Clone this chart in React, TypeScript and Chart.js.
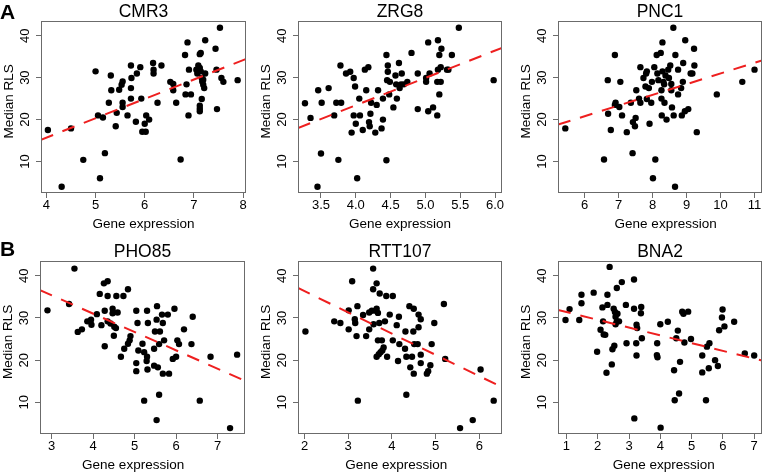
import React, { useEffect, useRef } from 'react';
import { Chart, registerables } from 'chart.js';

Chart.register(...registerables);

// ---------- DATA (Gene expression, Median RLS) ----------
const CMR3_POINTS: [number, number][] = [
  [4.03, 17.5], [4.31, 4.0], [4.5, 17.9], [4.75, 10.4], [5.0, 31.5], [5.05, 21.0], [5.09, 6.0], [5.15, 20.5],
  [5.19, 12.0], [5.27, 24.0], [5.31, 30.5], [5.32, 27.0], [5.43, 21.6], [5.41, 18.4], [5.48, 27.1], [5.53, 28.3],
  [5.55, 29.1], [5.55, 24.0], [5.55, 23.0], [5.65, 21.0], [5.72, 32.9], [5.72, 27.5], [5.72, 25.0], [5.73, 29.9],
  [5.82, 19.5], [5.84, 31.0], [5.91, 32.5], [5.93, 25.0], [5.95, 17.1], [6.0, 19.0], [6.02, 17.1], [6.03, 21.0],
  [6.09, 20.0], [6.17, 33.5], [6.18, 31.9], [6.18, 31.0], [6.26, 24.0], [6.34, 32.9], [6.52, 29.0], [6.58, 28.5],
  [6.58, 27.0], [6.64, 24.0], [6.73, 10.5], [6.82, 35.4], [6.83, 26.0], [6.85, 28.4], [6.87, 38.4], [6.89, 21.0],
  [6.9, 31.9], [6.94, 26.0], [7.05, 31.9], [7.07, 31.0], [7.09, 32.9], [7.12, 35.6], [7.14, 35.9], [7.12, 32.3],
  [7.14, 31.5], [7.16, 29.9], [7.17, 29.1], [7.19, 28.3], [7.16, 24.9], [7.12, 23.3], [7.12, 22.6], [7.12, 22.0],
  [7.23, 38.9], [7.21, 27.5], [7.19, 29.5], [7.23, 31.0], [7.44, 36.9], [7.46, 31.9], [7.47, 22.5], [7.53, 41.9],
  [7.56, 29.9], [7.6, 29.0], [7.89, 29.4],
];

const ZRG8_POINTS: [number, number][] = [
  [3.27, 23.9], [3.35, 20.4], [3.45, 4.0], [3.46, 27.0], [3.5, 11.9], [3.51, 24.0], [3.61, 27.5], [3.69, 21.0],
  [3.72, 24.0], [3.75, 10.4], [3.78, 32.9], [3.79, 24.0], [3.86, 31.0], [3.92, 31.4], [3.94, 16.9], [3.97, 29.9],
  [3.97, 21.0], [3.99, 27.9], [4.0, 19.0], [4.02, 6.0], [4.05, 25.0], [4.06, 21.0], [4.1, 17.5], [4.13, 31.9],
  [4.15, 27.0], [4.18, 32.5], [4.19, 19.4], [4.2, 18.4], [4.21, 21.4], [4.22, 24.0], [4.28, 16.9], [4.3, 23.5],
  [4.32, 27.0], [4.37, 17.9], [4.39, 20.0], [4.39, 25.0], [4.44, 35.4], [4.44, 10.3], [4.46, 32.9], [4.45, 29.4],
  [4.46, 31.4], [4.49, 29.0], [4.48, 26.0], [4.54, 22.9], [4.57, 30.5], [4.58, 28.4], [4.59, 25.0], [4.62, 33.5],
  [4.63, 27.5], [4.65, 28.4], [4.66, 31.0], [4.69, 28.4], [4.74, 29.0], [4.8, 35.9], [4.89, 31.0], [4.89, 22.5],
  [5.01, 29.9], [5.01, 29.0], [5.04, 38.4], [5.04, 22.0], [5.06, 31.0], [5.11, 22.9], [5.17, 29.0], [5.17, 21.0],
  [5.18, 38.9], [5.18, 31.9], [5.2, 35.4], [5.2, 26.0], [5.22, 29.0], [5.22, 32.5], [5.23, 36.9], [5.31, 31.9],
  [5.33, 31.9], [5.38, 35.4], [5.48, 41.9], [5.98, 29.4],
];

const PNC1_POINTS: [number, number][] = [
  [5.43, 17.9], [6.57, 10.5], [6.68, 29.4], [6.69, 21.4], [6.77, 17.5], [6.89, 35.4], [6.89, 23.5], [6.91, 24.0],
  [7.02, 23.0], [7.05, 29.0], [7.1, 21.0], [7.24, 17.0], [7.36, 24.0], [7.41, 12.0], [7.42, 19.4], [7.48, 18.4],
  [7.5, 20.4], [7.52, 27.0], [7.6, 25.0], [7.64, 24.0], [7.64, 32.5], [7.73, 29.9], [7.79, 27.9], [7.81, 31.0],
  [7.83, 31.5], [7.83, 24.9], [7.89, 27.5], [7.91, 19.0], [7.96, 24.0], [7.98, 29.0], [8.01, 6.0], [8.05, 32.5],
  [8.08, 10.5], [8.12, 35.4], [8.14, 31.0], [8.17, 29.4], [8.24, 35.9], [8.26, 25.0], [8.26, 27.0], [8.27, 21.0],
  [8.29, 38.4], [8.29, 31.5], [8.32, 29.0], [8.34, 28.4], [8.35, 24.0], [8.38, 30.5], [8.41, 20.0], [8.46, 31.9],
  [8.48, 29.9], [8.52, 32.9], [8.55, 28.5], [8.55, 27.0], [8.57, 22.9], [8.61, 41.9], [8.62, 21.0], [8.67, 35.4],
  [8.66, 4.0], [8.75, 31.9], [8.75, 26.0], [8.84, 27.5], [8.86, 21.0], [8.89, 29.0], [8.9, 33.5], [8.95, 22.0],
  [8.96, 38.9], [9.05, 22.5], [9.12, 31.0], [9.17, 31.0], [9.22, 36.9], [9.23, 32.9], [9.3, 17.0], [9.89, 26.0],
  [10.64, 29.0], [11.0, 31.9],
];

const PHO85_POINTS: [number, number][] = [
  [2.9, 31.8], [3.42, 33.3], [3.55, 41.7], [3.63, 26.7], [3.73, 27.3], [3.86, 29.2], [3.95, 29.6], [3.96, 28.4],
  [4.09, 30.9], [4.16, 35.7], [4.2, 28.3], [4.26, 38.2], [4.35, 38.7], [4.28, 31.7], [4.28, 23.3], [4.35, 35.2],
  [4.35, 29.2], [4.42, 28.7], [4.47, 32.2], [4.47, 31.1], [4.51, 27.9], [4.5, 25.8], [4.55, 27.6], [4.59, 31.3],
  [4.56, 35.2], [4.67, 20.8], [4.73, 35.2], [4.75, 22.7], [4.84, 36.8], [4.84, 23.9], [4.88, 24.7], [4.9, 25.7],
  [5.04, 31.7], [5.07, 28.8], [5.04, 19.3], [5.04, 17.4], [5.09, 22.3], [5.23, 10.4], [5.19, 23.9], [5.23, 21.9],
  [5.3, 31.7], [5.32, 28.8], [5.3, 20.8], [5.29, 19.8], [5.31, 17.8], [5.54, 32.8], [5.53, 29.6], [5.49, 26.8],
  [5.61, 26.8], [5.66, 30.8], [5.68, 28.8], [5.8, 30.8], [5.96, 32.2], [5.71, 24.7], [5.59, 23.8], [5.47, 22.7],
  [5.47, 18.7], [5.56, 18.3], [5.68, 16.8], [5.83, 16.8], [5.59, 11.8], [5.53, 5.8], [6.03, 24.7], [6.07, 23.8],
  [6.19, 27.3], [6.4, 30.3], [6.37, 23.8], [5.92, 20.3], [6.0, 20.8], [6.57, 10.4], [6.83, 20.8], [7.3, 3.9],
  [7.47, 21.3],
];

const RTT107_POINTS: [number, number][] = [
  [2.02, 26.8], [3.09, 38.7], [3.21, 32.8], [3.22, 10.4], [3.01, 31.8], [3.01, 27.3], [2.68, 29.2], [2.82, 28.8],
  [3.15, 29.7], [3.16, 28.8], [3.19, 25.7], [3.34, 30.7], [3.41, 25.7], [3.48, 27.3], [3.48, 31.3], [3.54, 31.7],
  [3.57, 41.7], [3.57, 36.8], [3.65, 38.2], [3.58, 28.5], [3.63, 31.7], [3.65, 32.2], [3.68, 31.2], [3.71, 28.8],
  [3.72, 35.8], [3.68, 24.7], [3.77, 24.7], [3.84, 29.2], [3.95, 30.8], [3.87, 35.2], [4.02, 35.2], [3.81, 23.0],
  [3.78, 22.3], [3.74, 21.9], [3.7, 21.4], [3.65, 20.8], [3.89, 20.8], [4.02, 24.7], [4.11, 28.3], [4.16, 30.3],
  [4.14, 19.8], [4.17, 23.8], [4.4, 32.8], [4.5, 32.2], [4.61, 30.8], [4.66, 29.7], [4.61, 27.8], [4.49, 26.8],
  [4.31, 26.8], [4.3, 22.7], [4.51, 23.8], [4.59, 23.8], [4.66, 21.3], [4.66, 19.3], [4.46, 20.8], [4.33, 20.8],
  [4.42, 18.3], [4.5, 16.8], [4.8, 16.8], [4.83, 17.4], [4.88, 18.8], [4.91, 23.8], [4.97, 28.8], [5.19, 33.3],
  [5.22, 20.3], [4.33, 11.8], [6.03, 17.8], [6.33, 10.4], [5.85, 5.8], [5.56, 3.9],
];

const BNA2_POINTS: [number, number][] = [
  [0.97, 29.5], [1.1, 32.1], [1.41, 29.5], [1.48, 35.5], [1.48, 33.5], [1.87, 36.0], [1.98, 22.0], [2.09, 27.2],
  [2.15, 32.5], [2.17, 29.2], [2.19, 26.1], [2.24, 26.0], [2.28, 17.0], [2.31, 35.5], [2.31, 33.1], [2.38, 42.1],
  [2.45, 19.0], [2.47, 22.6], [2.53, 23.4], [2.51, 32.2], [2.55, 31.4], [2.57, 30.3], [2.63, 31.0], [2.61, 29.2],
  [2.68, 29.2], [2.57, 28.5], [2.61, 37.1], [2.77, 38.5], [2.9, 33.1], [2.92, 24.0], [3.16, 39.1], [3.16, 32.2],
  [3.17, 6.2], [3.24, 28.4], [3.26, 27.6], [3.23, 24.0], [3.24, 21.1], [3.39, 32.6], [3.38, 31.1], [3.41, 25.2],
  [4.0, 28.5], [3.9, 24.0], [3.89, 21.2], [3.91, 20.7], [4.01, 4.0], [4.24, 29.1], [4.44, 17.6], [4.46, 10.5],
  [4.6, 12.1], [4.63, 19.6], [4.56, 27.0], [4.51, 25.2], [4.7, 31.5], [4.74, 31.0], [4.77, 24.2], [4.89, 31.5],
  [4.98, 25.0], [5.34, 21.1], [5.34, 17.1], [5.46, 10.5], [5.49, 23.2], [5.57, 24.0], [5.55, 18.1], [5.75, 20.0],
  [5.84, 18.6], [5.88, 27.1], [5.97, 30.1], [5.99, 32.0], [6.05, 28.0], [6.36, 29.1], [6.7, 21.6], [7.0, 21.1],
];

// Axis limits and ticks
const Y_LIMITS: [number, number] = [2.5, 43.5];
const Y_TICKS = [10, 20, 30, 40];

const CMR3_XLIM: [number, number] = [3.89, 8.06];
const ZRG8_XLIM: [number, number] = [3.17, 6.1];
const PNC1_XLIM: [number, number] = [5.215, 11.22];
const PHO85_XLIM: [number, number] = [2.72, 7.66];
const RTT107_XLIM: [number, number] = [1.85, 6.52];
const BNA2_XLIM: [number, number] = [0.73, 7.25];

const CMR3_XTICKS = [4, 5, 6, 7, 8];
const ZRG8_XTICKS = [3.5, 4.0, 4.5, 5.0, 5.5, 6.0];
const PNC1_XTICKS = [6, 7, 8, 9, 10, 11];
const PHO85_XTICKS = [3, 4, 5, 6, 7];
const RTT107_XTICKS = [2, 3, 4, 5, 6];
const BNA2_XTICKS = [1, 2, 3, 4, 5, 6, 7];

// Regression line: RLS at the left and right x limits
const CMR3_FIT: [number, number] = [15.2, 34.45];
const ZRG8_FIT: [number, number] = [18.0, 37.1];
const PNC1_FIT: [number, number] = [18.8, 34.1];
const PHO85_FIT: [number, number] = [36.6, 15.1];
const RTT107_FIT: [number, number] = [37.1, 13.6];
const BNA2_FIT: [number, number] = [31.9, 19.9];

const X_TITLE = 'Gene expression';
const Y_TITLE = 'Median RLS';

// ---------- LAYOUT / STYLE ----------
const FONT = "'Liberation Sans', Arial, Helvetica, sans-serif";
const AXIS_GRAY = '#6b6b6b';
const RED = '#ee1f1f';
const Y_AXIS_W = 40;
const X_AXIS_H = 40;
const TITLE_H = 20; // 17.5 + 2 + 0.5
const RIGHT_PAD = 12;

type Panel = {
  title: string;
  points: [number, number][];
  xlim: [number, number];
  xticks: number[];
  decimals: number;
  fit: [number, number];
  xTitleShift: number; // spaces: >0 leading (shift right), <0 trailing (shift left)
  box: { L: number; R: number; T: number; B: number };
};

const PANELS: Panel[] = [
  { title: 'CMR3', points: CMR3_POINTS, xlim: CMR3_XLIM, xticks: CMR3_XTICKS, decimals: 0, fit: CMR3_FIT, xTitleShift: 0, box: { L: 41, R: 246, T: 21, B: 193 } },
  { title: 'ZRG8', points: ZRG8_POINTS, xlim: ZRG8_XLIM, xticks: ZRG8_XTICKS, decimals: 1, fit: ZRG8_FIT, xTitleShift: 0, box: { L: 298, R: 502, T: 21, B: 193 } },
  { title: 'PNC1', points: PNC1_POINTS, xlim: PNC1_XLIM, xticks: PNC1_XTICKS, decimals: 0, fit: PNC1_FIT, xTitleShift: 3, box: { L: 558, R: 762, T: 21, B: 193 } },
  { title: 'PHO85', points: PHO85_POINTS, xlim: PHO85_XLIM, xticks: PHO85_XTICKS, decimals: 0, fit: PHO85_FIT, xTitleShift: -5, box: { L: 40, R: 245, T: 261, B: 434 } },
  { title: 'RTT107', points: RTT107_POINTS, xlim: RTT107_XLIM, xticks: RTT107_XTICKS, decimals: 0, fit: RTT107_FIT, xTitleShift: -2, box: { L: 298, R: 502, T: 261, B: 434 } },
  { title: 'BNA2', points: BNA2_POINTS, xlim: BNA2_XLIM, xticks: BNA2_XTICKS, decimals: 0, fit: BNA2_FIT, xTitleShift: 2, box: { L: 558, R: 762, T: 261, B: 434 } },
];

function padText(text: string, n: number) {
  if (n > 0) return ' '.repeat(n) + text;
  if (n < 0) return text + ' '.repeat(-n);
  return text;
}

const boxPlugin = {
  id: 'plotBox',
  afterDatasetsDraw(chart: any) {
    const { ctx, chartArea } = chart;
    const { left, top, right, bottom } = chartArea;
    ctx.save();
    ctx.strokeStyle = AXIS_GRAY;
    ctx.lineWidth = 1;
    ctx.strokeRect(Math.round(left) + 0.5, Math.round(top) + 0.5, Math.round(right - left) - 1, Math.round(bottom - top) - 1);
    ctx.restore();
  },
};

function ScatterPanel({ panel }: { panel: Panel }) {
  const ref = useRef<HTMLCanvasElement | null>(null);
  const { L, R, T, B } = panel.box;
  const width = R - L + Y_AXIS_W + RIGHT_PAD;
  const height = B - T + TITLE_H + X_AXIS_H;

  useEffect(() => {
    if (!ref.current) return;
    const tickFont = { family: FONT, size: 13, lineHeight: 1.2 };
    const titleFont = { family: FONT, size: 13.5, lineHeight: 1.2 };
    const chart = new Chart(ref.current, {
      type: 'scatter',
      data: {
        datasets: [
          {
            type: 'line',
            data: [
              { x: panel.xlim[0], y: panel.fit[0] },
              { x: panel.xlim[1], y: panel.fit[1] },
            ],
            borderColor: RED,
            borderWidth: 2,
            borderDash: [13, 10],
            pointRadius: 0,
            fill: false,
          } as any,
          {
            type: 'scatter',
            data: panel.points.map(([x, y]) => ({ x, y })),
            pointRadius: 3.2,
            pointBackgroundColor: '#000',
            backgroundColor: '#000',
            borderWidth: 0,
            pointBorderWidth: 0,
          } as any,
        ],
      },
      options: {
        animation: false,
        responsive: false,
        maintainAspectRatio: false,
        events: [],
        layout: { padding: { left: 0, top: 0, right: RIGHT_PAD, bottom: 0 } },
        plugins: {
          legend: { display: false },
          tooltip: { enabled: false },
          title: {
            display: true,
            text: panel.title,
            fullSize: false,
            color: '#000',
            font: { family: FONT, size: 17.5, weight: 'normal', lineHeight: 1 },
            padding: { top: 2, bottom: 0.5 },
          },
        },
        scales: {
          x: {
            type: 'linear',
            min: panel.xlim[0],
            max: panel.xlim[1],
            afterBuildTicks: (axis: any) => {
              axis.ticks = panel.xticks.map((v) => ({ value: v }));
            },
            afterFit: (axis: any) => {
              axis.height = X_AXIS_H;
            },
            ticks: {
              font: tickFont,
              color: '#000',
              padding: 0,
              maxRotation: 0,
              autoSkip: false,
              callback: (v: any) => Number(v).toFixed(panel.decimals),
            },
            grid: { display: true, drawOnChartArea: false, drawTicks: true, tickLength: 5, color: AXIS_GRAY },
            border: { display: false },
            title: {
              display: true,
              text: padText(X_TITLE, panel.xTitleShift),
              color: '#000',
              font: titleFont,
              padding: { top: 0, bottom: 0.9 },
            },
          },
          y: {
            type: 'linear',
            min: Y_LIMITS[0],
            max: Y_LIMITS[1],
            afterBuildTicks: (axis: any) => {
              axis.ticks = Y_TICKS.map((v) => ({ value: v }));
            },
            afterFit: (axis: any) => {
              axis.width = Y_AXIS_W;
            },
            ticks: {
              font: tickFont,
              color: '#000',
              padding: 3.3,
              minRotation: 90,
              maxRotation: 90,
              crossAlign: 'center',
              autoSkip: false,
            },
            grid: { display: true, drawOnChartArea: false, drawTicks: true, tickLength: 5, color: AXIS_GRAY },
            border: { display: false },
            title: {
              display: true,
              text: padText(Y_TITLE, 3),
              color: '#000',
              font: titleFont,
              padding: { top: 0.4, bottom: 0 },
            },
          },
        },
      } as any,
      plugins: [boxPlugin],
    });
    return () => chart.destroy();
  }, [panel]);

  return (
    <canvas
      ref={ref}
      width={width}
      height={height}
      style={{
        position: 'absolute',
        left: L - Y_AXIS_W,
        top: T - TITLE_H,
        width,
        height,
      }}
    />
  );
}

const letterStyle: React.CSSProperties = {
  position: 'absolute',
  left: 0,
  fontFamily: FONT,
  fontWeight: 'bold',
  fontSize: 21,
  lineHeight: '21px',
  color: '#000',
};

export default function App() {
  return (
    <div
      style={{
        position: 'fixed',
        left: 0,
        top: 0,
        width: 763,
        height: 473,
        overflow: 'hidden',
        background: '#fff',
      }}
    >
      {PANELS.map((p) => (
        <ScatterPanel key={p.title} panel={p} />
      ))}
      <div style={{ ...letterStyle, top: 0.5 }}>A</div>
      <div style={{ ...letterStyle, top: 237.5 }}>B</div>
    </div>
  );
}
